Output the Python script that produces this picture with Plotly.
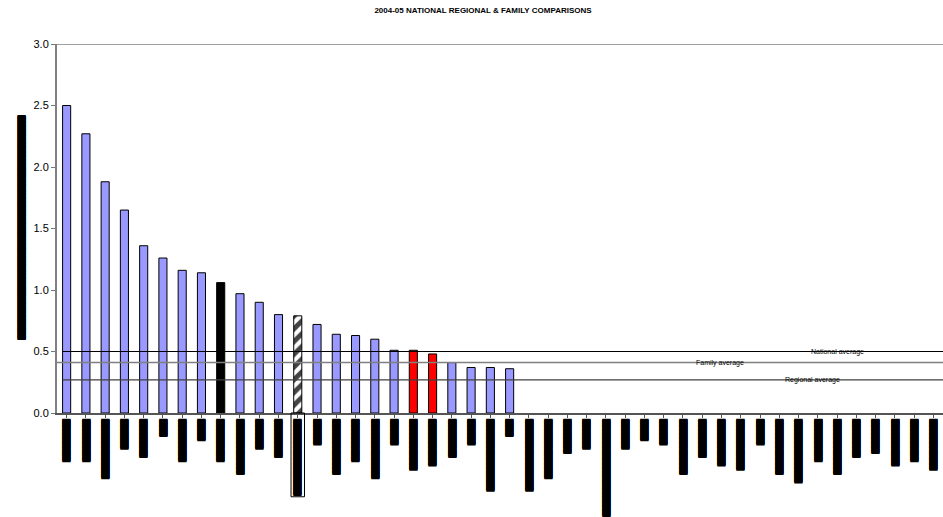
import plotly.graph_objects as go

# ---------------- data ----------------
title_text = "2004-05 NATIONAL REGIONAL & FAMILY COMPARISONS"
n_categories = 46
bar_values = [2.50, 2.27, 1.88, 1.65, 1.36, 1.26, 1.16, 1.14, 1.06, 0.97, 0.90, 0.80,
              0.79, 0.72, 0.64, 0.63, 0.60, 0.51, 0.51, 0.48, 0.41, 0.37, 0.37, 0.36]
bar_kinds = ["peer"] * 8 + ["self"] + ["peer"] * 3 + ["family"] + ["peer"] * 5 + \
            ["regional"] * 2 + ["peer"] * 4
# redacted category labels (number of block characters in each label)
label_chars = [10, 10, 14, 7, 9, 4, 10, 5, 10, 13, 7, 9, 18, 6, 13, 10, 14, 6, 12, 11,
               9, 6, 17, 4, 17, 14, 8, 7, 23, 7, 5, 6, 13, 9, 11, 12, 6, 13, 15, 10,
               13, 9, 8, 11, 10, 12]
yaxis_title_chars = 53
national_avg = 0.50
family_avg = 0.41
regional_avg = 0.27
avg_labels = ["National average", "Family average", "Regional average"]
y_ticks = [0.0, 0.5, 1.0, 1.5, 2.0, 2.5, 3.0]
# --------------------------------------

BLOCK = "\u2588"
BLOCK_FONT = "DejaVu Sans Mono"
SEAM_FILL = "1px 0px 0px #000000, -0.5px 0px 0px #000000"
kind_color = {"peer": "#9999FF", "self": "#000000", "family": "#FFFFFF", "regional": "#FF0000"}
kind_pattern = {"peer": "", "self": "", "family": "/", "regional": ""}

xs = list(range(len(bar_values)))

fig = go.Figure()
fig.add_trace(go.Bar(
    x=xs, y=bar_values, width=0.42,
    marker=dict(
        color=[kind_color[k] for k in bar_kinds],
        line=dict(color="#000000", width=1),
        pattern=dict(shape=[kind_pattern[k] for k in bar_kinds],
                     fgcolor="#000000", fgopacity=1, size=9, solidity=0.55),
    ),
    showlegend=False, hoverinfo="skip",
))

ticktext = [BLOCK * n for n in label_chars]

fig.update_layout(
    width=943, height=517,
    margin=dict(l=57, r=0, t=44, b=104),
    paper_bgcolor="white", plot_bgcolor="white",
    title=dict(text="<b>" + title_text + "</b>", x=483 / 943, xanchor="center",
               y=1 - 10 / 517, yanchor="middle",
               font=dict(family="Liberation Sans, Arial", size=8, color="#000")),
    bargap=0.58,
    xaxis=dict(
        range=[-0.5, n_categories - 0.5],
        tickmode="array", tickvals=list(range(n_categories)), ticktext=ticktext,
        tickangle=90, tickfont=dict(family=BLOCK_FONT, size=7, color="#000", shadow=SEAM_FILL),
        ticks="outside", tickson="boundaries", ticklen=3, tickcolor="#555",
        showline=True, linecolor="#555", linewidth=1.5,
        showgrid=False, zeroline=False, automargin=False,
    ),
    yaxis=dict(
        range=[0, 3.0], tickmode="array", tickvals=y_ticks,
        ticktext=[f"{v:.1f}" for v in y_ticks],
        tickfont=dict(family="Liberation Sans, Arial", size=11, color="#000"),
        ticks="outside", ticklen=4, tickcolor="#777",
        showline=True, linecolor="#808080", linewidth=2,
        showgrid=False, zeroline=False, automargin=False,
    ),
)

# top border of plot area
fig.add_shape(type="line", xref="paper", yref="y", x0=0, x1=1, y0=3.0, y1=3.0,
              line=dict(color="#808080", width=1.5))

# average lines
fig.add_shape(type="line", xref="x", yref="y", x0=-0.2, x1=n_categories - 0.5,
              y0=national_avg, y1=national_avg, line=dict(color="#000000", width=1))
fig.add_shape(type="line", xref="x", yref="y", x0=-0.5, x1=n_categories - 0.5,
              y0=family_avg, y1=family_avg, line=dict(color="#808080", width=1.5))
fig.add_shape(type="line", xref="x", yref="y", x0=-0.2, x1=n_categories - 0.5,
              y0=regional_avg, y1=regional_avg, line=dict(color="#404040", width=1.2))

for label, xv, yv in zip(avg_labels, [40.0, 33.9, 38.75], [national_avg, family_avg, regional_avg]):
    fig.add_annotation(x=xv, y=yv, xref="x", yref="y", text=label, showarrow=False,
                       font=dict(family="Liberation Sans, Arial", size=7, color="#000"),
                       xanchor="center", yanchor="middle")

# highlight box around the family member's label
hi = bar_kinds.index("family")
fig.add_shape(type="rect", xref="x", yref="paper", x0=hi - 0.35, x1=hi + 0.35,
              y0=0, y1=-0.227, line=dict(color="#000000", width=1))

# redacted y-axis title
fig.add_annotation(xref="paper", yref="paper", x=-36 / 886, y=0.5, text=BLOCK * yaxis_title_chars,
                   textangle=-90, showarrow=False, xanchor="center", yanchor="middle",
                   font=dict(family=BLOCK_FONT, size=7, color="#000", shadow=SEAM_FILL))

fig.write_html("out.html", config={"displayModeBar": False},
               post_script="document.body.style.margin='0';document.body.style.overflow='hidden';")
